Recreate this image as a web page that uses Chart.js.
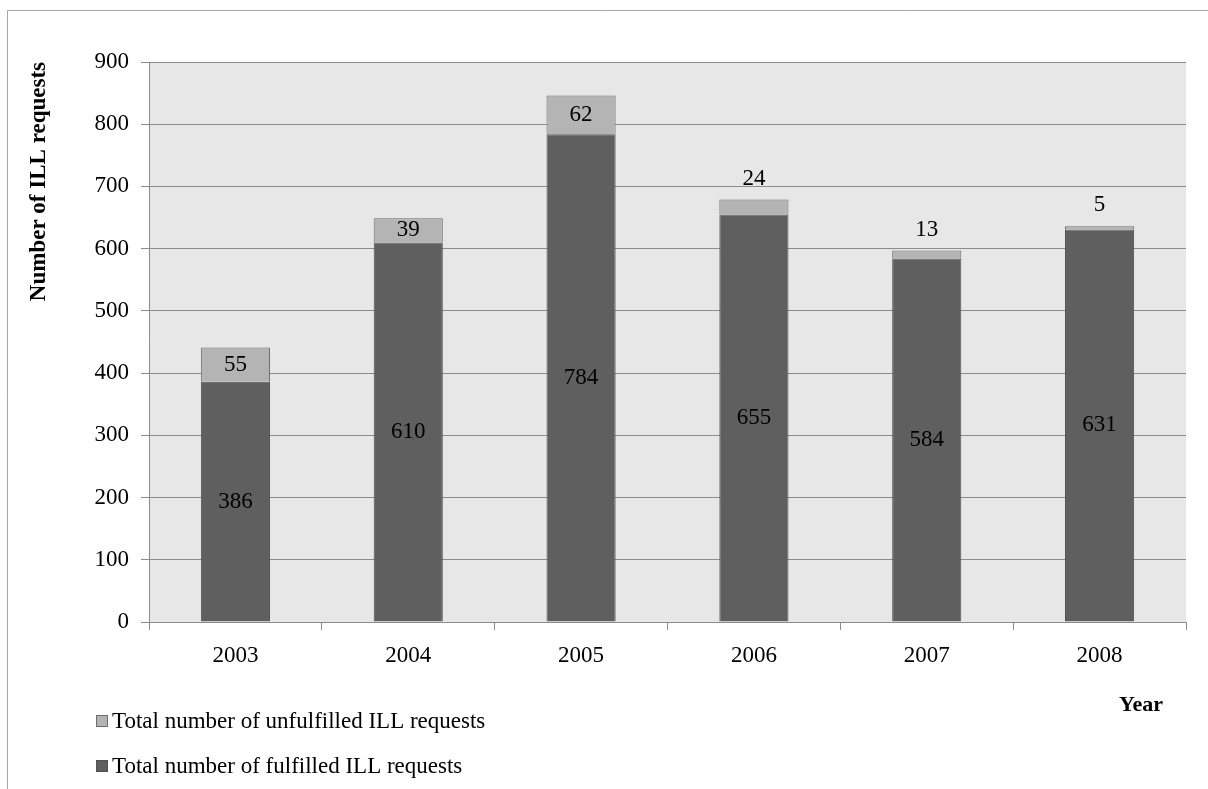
<!DOCTYPE html>
<html>
<head>
<meta charset="utf-8">
<title>ILL requests 2003–2008</title>
<script src="https://cdn.jsdelivr.net/npm/chart.js@4/dist/chart.umd.min.js"></script>
<style>
  html, body { margin: 0; padding: 0; background: #ffffff; }
  #c { display: block; }
</style>
</head>
<body>
<canvas id="c" width="1208" height="789"></canvas>
<script>
// Interlibrary loan requests per year
const years = ['2003', '2004', '2005', '2006', '2007', '2008'];
const fulfilled = [386, 610, 784, 655, 584, 631];
const unfulfilled = [55, 39, 62, 24, 13, 5];
const yMin = 0;
const yMax = 900;
const yStep = 100;
const fulfilledName = 'Total number of fulfilled ILL requests';
const unfulfilledName = 'Total number of unfulfilled ILL requests';
const xTitle = 'Year';
const yTitle = 'Number of ILL requests';

const SERIF = "'Liberation Serif', 'Times New Roman', serif";
const GRID = '#8c8c8c';
const TEXT_SIZE = 23;

// Outer frame and grey plot background
const backdrop = {
  id: 'backdrop',
  beforeDraw(chart) {
    const { ctx, chartArea: a } = chart;
    ctx.save();
    ctx.fillStyle = '#e7e7e7';
    ctx.fillRect(a.left, a.top, a.right - a.left, a.bottom - a.top);
    ctx.strokeStyle = '#a6a6a6';
    ctx.lineWidth = 1;
    ctx.beginPath();
    ctx.moveTo(7.5, chart.height);
    ctx.lineTo(7.5, 10.5);
    ctx.lineTo(chart.width, 10.5);
    ctx.stroke();
    ctx.restore();
  }
};

// Value labels: fulfilled in the middle of the bar, unfulfilled inside its
// segment when there is room, otherwise just above the stack
const valueLabels = {
  id: 'valueLabels',
  afterDatasetsDraw(chart) {
    const { ctx } = chart;
    ctx.save();
    ctx.font = TEXT_SIZE + 'px ' + SERIF;
    ctx.fillStyle = '#000';
    ctx.textAlign = 'center';
    ctx.textBaseline = 'middle';
    chart.data.datasets.forEach((ds, di) => {
      const meta = chart.getDatasetMeta(di);
      meta.data.forEach((bar, i) => {
        const { x, y, base } = bar.getProps(['x', 'y', 'base'], true);
        const h = Math.abs(base - y);
        let ty;
        if (di === 0 || h >= 20) {
          ty = (y + base) / 2;
        } else {
          ty = Math.min(y, base) - 21;
        }
        ctx.fillText(String(ds.data[i]), x, ty);
      });
    });
    ctx.restore();
  }
};

// Legend stacked in two rows under the axis, unfulfilled first;
// the x-axis caption sits a little in from the right end of the axis
const rowLegend = {
  id: 'rowLegend',
  afterDraw(chart) {
    const { ctx } = chart;
    const order = [1, 0];
    const rows = [721, 766];
    ctx.save();
    ctx.font = TEXT_SIZE + 'px ' + SERIF;
    ctx.textAlign = 'left';
    ctx.textBaseline = 'middle';
    order.forEach((di, r) => {
      const ds = chart.data.datasets[di];
      const y = rows[r];
      ctx.fillStyle = ds.backgroundColor;
      ctx.fillRect(96, y - 6, 12, 12);
      ctx.strokeStyle = ds.borderColor;
      ctx.lineWidth = 1;
      ctx.strokeRect(96.5, y - 5.5, 11, 11);
      ctx.fillStyle = '#000';
      ctx.fillText(ds.label, 112, y + 1);
    });

    const xs = chart.scales.x;
    ctx.font = 'bold 22px ' + SERIF;
    ctx.textAlign = 'right';
    ctx.fillText(xTitle, xs.right - 23, 705);
    ctx.restore();
  }
};

new Chart(document.getElementById('c'), {
  type: 'bar',
  data: {
    labels: years,
    datasets: [
      {
        label: fulfilledName,
        data: fulfilled,
        backgroundColor: '#5f5f5f',
        borderColor: '#525252',
        borderWidth: 1,
        barPercentage: 0.40,
        categoryPercentage: 1.0
      },
      {
        label: unfulfilledName,
        data: unfulfilled,
        backgroundColor: '#b4b4b4',
        borderColor: '#6c6c6c',
        borderWidth: 1,
        barPercentage: 0.40,
        categoryPercentage: 1.0
      }
    ]
  },
  options: {
    responsive: false,
    animation: false,
    devicePixelRatio: 1,
    layout: { padding: { left: 20, right: 22, top: 62, bottom: 67 } },
    plugins: {
      legend: { display: false },
      tooltip: { enabled: false },
      title: { display: false }
    },
    scales: {
      x: {
        stacked: true,
        offset: true,
        grid: {
          offset: true,
          drawOnChartArea: false,
          drawTicks: true,
          tickLength: 8,
          color: GRID
        },
        border: { display: true, color: GRID },
        ticks: {
          color: '#000',
          padding: 12,
          font: { family: SERIF, size: TEXT_SIZE }
        },
        afterFit(scale) { scale.height = 100; }
      },
      y: {
        stacked: true,
        min: yMin,
        max: yMax,
        grid: {
          color: GRID,
          tickLength: 8,
          drawTicks: true
        },
        border: { display: true, color: GRID },
        ticks: {
          stepSize: yStep,
          color: '#000',
          padding: 12,
          font: { family: SERIF, size: TEXT_SIZE }
        },
        title: {
          display: true,
          text: yTitle,
          align: 'end',
          color: '#000',
          font: { family: SERIF, size: 23, weight: 'bold' },
          padding: { top: 5, bottom: 0 }
        },
        afterFit(scale) { scale.width = 129; }
      }
    }
  },
  plugins: [backdrop, valueLabels, rowLegend]
});
</script>
</body>
</html>
